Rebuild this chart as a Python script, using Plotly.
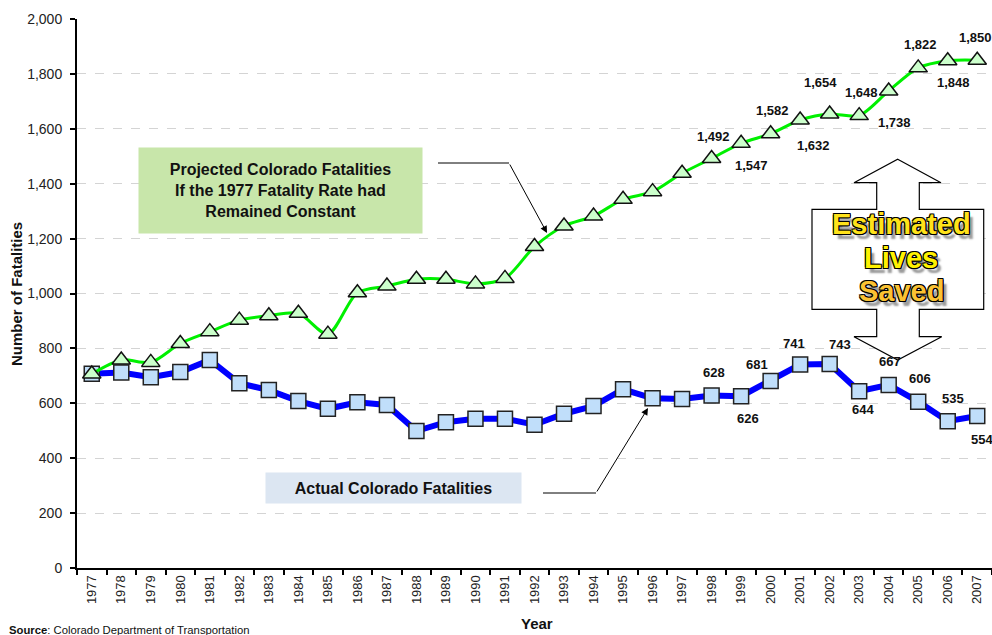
import plotly.graph_objects as go

years = [str(y) for y in range(1977, 2008)]
actual = [708, 712, 695, 714, 758, 673, 648, 608, 580, 604, 594, 499, 531, 544, 544, 522,
          562, 590, 651, 618, 616, 628, 626, 681, 741, 743, 644, 667, 606, 535, 554]
projected = [707, 758, 749, 818, 861, 903, 919, 928, 852, 1003, 1027, 1052, 1052, 1035, 1055, 1171,
             1246, 1282, 1343, 1371, 1438, 1492, 1547, 1582, 1632, 1654, 1648, 1738, 1822, 1848, 1850]

labelled_years = years[21:]
# label offsets (style only)
proj_shift = [(2, 22), (10, -22), (2, 23), (13, -25), (-9, 31), (2, 23), (6, -32), (2, 23), (6, -22), (-2, 23)]
act_shift = [(2, 23), (7, -22), (-14, 17), (-6, 21), (10, 20), (4, -18), (1, 23), (2, 23), (5, 23), (5, -24)]

W, H = 992, 635
L, R, T, B = 77, 992, 19, 568
FONT = "Liberation Sans, Arial, sans-serif"


def px(x, y):
    return (x - L) / (R - L), (B - y) / (B - T)


fig = go.Figure()
fig.add_trace(go.Scatter(
    x=years, y=actual, mode="lines+markers",
    line=dict(color="#0000FF", width=6),
    marker=dict(symbol="square", size=15, color="#C0DEFA", line=dict(color="#222222", width=1.5)),
    showlegend=False, cliponaxis=False))
fig.add_trace(go.Scatter(
    x=years, y=projected, mode="lines+markers",
    line=dict(color="#00F000", width=3, shape="spline", smoothing=0.8),
    marker=dict(symbol="triangle-up", size=16, color="#CCFFCC", line=dict(color="#111111", width=1.5)),
    showlegend=False, cliponaxis=False))

ann = []
lab_font = dict(family=FONT, size=13, color="#111", weight="bold")
for yr, (dx, dy) in zip(labelled_years, proj_shift):
    i = years.index(yr)
    v = projected[i]
    ann.append(dict(x=i, y=v, xref="x", yref="y", text=f"{v:,}", showarrow=False,
                    xshift=dx, yshift=dy, font=lab_font))
for yr, (dx, dy) in zip(labelled_years, act_shift):
    i = years.index(yr)
    v = actual[i]
    ann.append(dict(x=i, y=v, xref="x", yref="y", text=f"{v:,}", showarrow=False,
                    xshift=dx, yshift=dy, font=lab_font))


def pann(x, y, **kw):
    px_, py_ = px(x, y)
    d = dict(x=px_, y=py_, xref="paper", yref="paper", xanchor="center", yanchor="middle", showarrow=False)
    d.update(kw)
    ann.append(d)


# text boxes
pann(280.5, 190.5,
     text="Projected Colorado Fatalities<br>If the 1977 Fatality Rate had<br>Remained Constant",
     width=283, height=85, borderpad=0, bgcolor="#C8E6AA", align="center",
     font=dict(family=FONT, size=16, color="#111", weight="bold"))
pann(393.5, 488, text="Actual Colorado Fatalities",
     width=255, height=30, borderpad=0, bgcolor="#DCE6F2", align="center",
     font=dict(family=FONT, size=16, color="#111", weight="bold"))

# callout arrows
tx, ty = px(547, 233)
ann.append(dict(x=tx, y=ty, xref="paper", yref="paper", text="", showarrow=True,
                ax=-38, ay=-70, arrowhead=2, arrowsize=1.4, arrowwidth=1, arrowcolor="#000"))
tx, ty = px(648, 408)
ann.append(dict(x=tx, y=ty, xref="paper", yref="paper", text="", showarrow=True,
                ax=-52, ay=85, arrowhead=2, arrowsize=1.4, arrowwidth=1, arrowcolor="#000"))

shapes = []
x0, y0 = px(438, 163); x1, y1 = px(509, 163)
shapes.append(dict(type="line", xref="paper", yref="paper", x0=x0, y0=y0, x1=x1, y1=y1,
                   line=dict(color="#000", width=1)))
x0, y0 = px(543, 493); x1, y1 = px(596, 493)
shapes.append(dict(type="line", xref="paper", yref="paper", x0=x0, y0=y0, x1=x1, y1=y1,
                   line=dict(color="#000", width=1)))

# double block arrow
pts = [(897.7, 159.3), (941, 182.7), (919.3, 182.7), (919.3, 209.3), (983.7, 209.3), (983.7, 309.3),
       (919.3, 309.3), (919.3, 336.7), (941.7, 336.7), (897.7, 360), (854, 336.7), (876.7, 336.7),
       (876.7, 309.3), (812, 309.3), (812, 209.3), (876.7, 209.3), (876.7, 182.7), (854, 182.7)]
path = ""
for i, (a, b) in enumerate(pts):
    pxx, pyy = px(a, b)
    path += ("M" if i == 0 else "L") + f"{pxx:.5f},{pyy:.5f} "
path += "Z"
shapes.append(dict(type="path", xref="paper", yref="paper", path=path,
                   fillcolor="white", line=dict(color="#000", width=1.2), layer="above"))

shadow = ("1px 1px 0 #000, -1px -1px 0 #000, 1px -1px 0 #000, -1px 1px 0 #000, "
          "0 1px 0 #000, 1px 0 0 #000, 4px 5px 2px #9a9a9a")
NARROW = "Liberation Sans Narrow, Arial Narrow, Liberation Sans, sans-serif"
for word, cy, col in [("Estimated", 224, "#FFE21A"), ("Lives", 258, "#FFF200"), ("Saved", 291, "#FBC233")]:
    pann(901, cy, text=word,
         font=dict(family=NARROW, size=29, color=col, weight="bold", shadow=shadow))

# axis titles and source
pann(16, 294, text="Number of Fatalities", textangle=-90,
     font=dict(family=FONT, size=15, color="#111", weight="bold"))
pann(537, 623, text="Year", font=dict(family=FONT, size=15, color="#111", weight="bold"))
pann(7, 630, xanchor="left", text="<b>Source</b>: Colorado Department of Transportation",
     font=dict(family=FONT, size=11.3, color="#111"))

fig.update_layout(
    width=W, height=H,
    margin=dict(l=L, r=W - R, t=T, b=H - B, pad=0),
    paper_bgcolor="white", plot_bgcolor="white",
    annotations=ann, shapes=shapes,
    xaxis=dict(type="category", range=[-0.5, 30.5], tickangle=-90, tickson="boundaries",
               ticks="outside", ticklen=5, tickwidth=2, tickcolor="#000",
               showline=True, linecolor="#000", linewidth=2, showgrid=False,
               tickfont=dict(family=FONT, size=13, color="#222")),
    yaxis=dict(range=[0, 2000], dtick=200, tickformat=",", ticks="outside", ticklen=5, tickwidth=2,
               tickcolor="#000", showline=True, linecolor="#000", linewidth=2, zeroline=False,
               showgrid=True, gridcolor="#D4D4D4", gridwidth=1, griddash="dash",
               ticklabelstandoff=5,
               tickfont=dict(family=FONT, size=14, color="#222")),
)

fig.write_html("out.html", config={"displayModeBar": False},
               post_script="document.body.style.margin='0px';document.body.style.overflow='hidden';")
